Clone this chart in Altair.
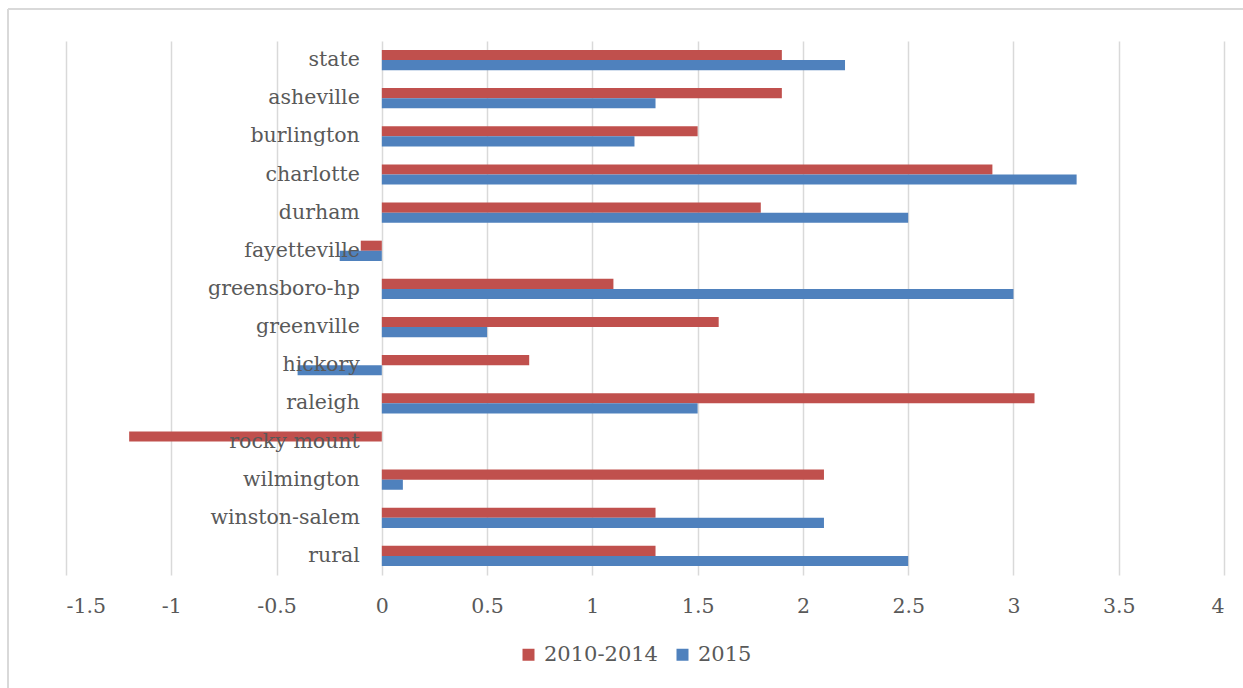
import altair as alt
import pandas as pd

categories = ["state", "asheville", "burlington", "charlotte", "durham", "fayetteville",
              "greensboro-hp", "greenville", "hickory", "raleigh", "rocky mount",
              "wilmington", "winston-salem", "rural"]
s2010 = [1.9, 1.9, 1.5, 2.9, 1.8, -0.1, 1.1, 1.6, 0.7, 3.1, -1.2, 2.1, 1.3, 1.3]
s2015 = [2.2, 1.3, 1.2, 3.3, 2.5, -0.2, 3.0, 0.5, -0.4, 1.5, 0.0, 0.1, 2.1, 2.5]
series = ["2010-2014", "2015"]
colors = ["#C0504D", "#4F81BD"]
ticks = [-1.5, -1, -0.5, 0, 0.5, 1, 1.5, 2, 2.5, 3, 3.5, 4]

rows = []
for i, c in enumerate(categories):
    rows.append({"cat": c, "series": series[0], "value": s2010[i]})
    rows.append({"cat": c, "series": series[1], "value": s2015[i]})
df = pd.DataFrame(rows)
labels = pd.DataFrame({"cat": categories})

FONT = "DejaVu Serif"
TXT = "#595959"
FS = 20.5

xscale = alt.Scale(domain=[-1.5, 4], nice=False, zero=False)
yscale = alt.Scale(domain=categories, paddingInner=0.47, paddingOuter=0.235)

bars = alt.Chart(df).mark_bar().encode(
    x=alt.X("value:Q", scale=xscale,
            axis=alt.Axis(values=ticks, title=None, grid=True, gridColor="#d9d9d9",
                          gridWidth=1.5, domain=False, ticks=False, labelPadding=21,
                          labelFontSize=FS, labelColor=TXT, labelFont=FONT,
                          labelExpr="datum.value + ''")),
    y=alt.Y("cat:N", scale=yscale, sort=categories, axis=None),
    yOffset=alt.YOffset("series:N", sort=series, scale=alt.Scale(domain=series, paddingInner=0)),
    color=alt.Color("series:N", scale=alt.Scale(domain=series, range=colors),
                    legend=alt.Legend(title=None, orient="none", legendX=452, legendY=603,
                                      direction="horizontal", symbolType="square",
                                      symbolSize=144, labelFontSize=21, labelFont=FONT,
                                      labelColor=TXT, columnPadding=14, labelOffset=5,
                                      symbolStrokeWidth=0)),
)

text = alt.Chart(labels).mark_text(align="right", baseline="middle", dx=-22,
                                   fontSize=FS, font=FONT, color=TXT).encode(
    x=alt.datum(0, scale=xscale),
    y=alt.Y("cat:N", scale=yscale, sort=categories),
    text="cat:N",
)

border_top = alt.Chart(labels).mark_rule(color="#d9d9d9", strokeWidth=2).encode(
    x=alt.value(-58), x2=alt.value(1200), y=alt.value(-32))
border_left = alt.Chart(labels).mark_rule(color="#d9d9d9", strokeWidth=2).encode(
    x=alt.value(-58), y=alt.value(-32), y2=alt.value(660))

chart = alt.layer(border_top, border_left, bars, text).properties(
    width=1158, height=534,
    autosize=alt.AutoSizeParams(type="none"),
    padding={"left": 66, "top": 41, "right": 19, "bottom": 113},
    background="white",
).configure_view(stroke=None)

chart.save("out.html", embed_options={"renderer": "svg", "actions": False})
